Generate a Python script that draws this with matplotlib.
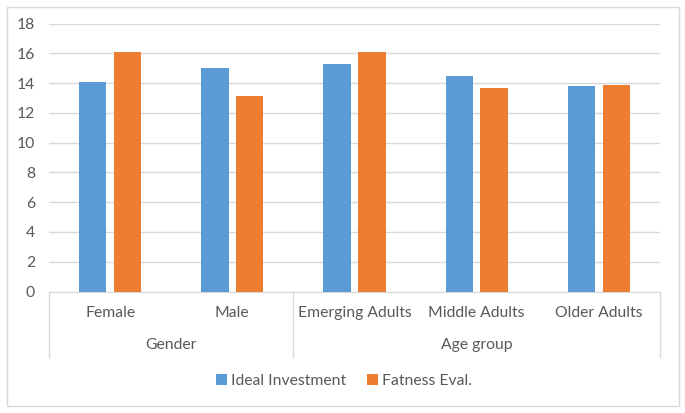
import numpy as np
import matplotlib.pyplot as plt
from matplotlib.patches import Rectangle
import matplotlib.transforms as mtransforms

# Mean scores by group
categories = ['Female', 'Male', 'Emerging Adults', 'Middle Adults', 'Older Adults']
groups = ['Gender', 'Age group']
group_sizes = [2, 3]
ideal_investment = [14.1, 15.0, 15.3, 14.5, 13.8]
fatness_eval = [16.1, 13.1, 16.1, 13.7, 13.85]

blue = '#5b9bd5'
orange = '#ed7d31'
text_col = '#595959'
line_col = '#d9d9d9'
fs = 11.3

plt.rcParams['font.family'] = ['Lato', 'DejaVu Sans']

fig = plt.figure(figsize=(6.85, 4.13), dpi=100)
ax = fig.add_axes([49 / 685, 1 - 291.5 / 413, 611 / 685, 268 / 413])

# outer chart border
fig.patches.append(Rectangle((7 / 685, 7 / 413), 672 / 685, 399 / 413, transform=fig.transFigure,
                             facecolor='none', edgecolor=line_col, linewidth=1))

bar_w = 0.224
gap = 0.06
idx = np.arange(len(categories))
ax.bar(idx - (bar_w + gap) / 2, ideal_investment, bar_w, color=blue, label='Ideal Investment', zorder=3)
ax.bar(idx + (bar_w + gap) / 2, fatness_eval, bar_w, color=orange, label='Fatness Eval.', zorder=3)

ax.set_xlim(-0.5, len(categories) - 0.5)
ax.set_ylim(0, 18)
ax.set_yticks(np.arange(0, 19, 2))
ax.yaxis.grid(True, color=line_col, linewidth=1, zorder=0)
ax.tick_params(axis='y', length=0, pad=10, labelsize=fs, labelcolor=text_col)
ax.set_xticks([])
for s in ['top', 'right', 'left']:
    ax.spines[s].set_visible(False)
ax.spines['bottom'].set_color(line_col)

# two-level category axis
trans = mtransforms.blended_transform_factory(ax.transData, ax.transAxes)
px = 1 / 268  # one pixel in axes-height units
for i, c in enumerate(categories):
    ax.text(i, -21.5 * px, c, transform=trans, ha='center', va='center', fontsize=fs, color=text_col)
start = 0
bounds = [-0.5]
for g, n in zip(groups, group_sizes):
    ax.text(start + (n - 1) / 2, -53.5 * px, g, transform=trans, ha='center', va='center',
            fontsize=fs, color=text_col)
    start += n
    bounds.append(start - 0.5)
for b in bounds:
    ax.plot([b, b], [0, -65.5 * px], transform=trans, color=line_col, linewidth=1, clip_on=False)

leg = fig.legend(loc='center', bbox_to_anchor=(344 / 685, 1 - 381 / 413), ncol=2, frameon=False,
                 fontsize=fs, handlelength=0.7, handleheight=0.7, handletextpad=0.3, columnspacing=1.3)
for t in leg.get_texts():
    t.set_color(text_col)

fig.savefig('out.png', dpi=100)
